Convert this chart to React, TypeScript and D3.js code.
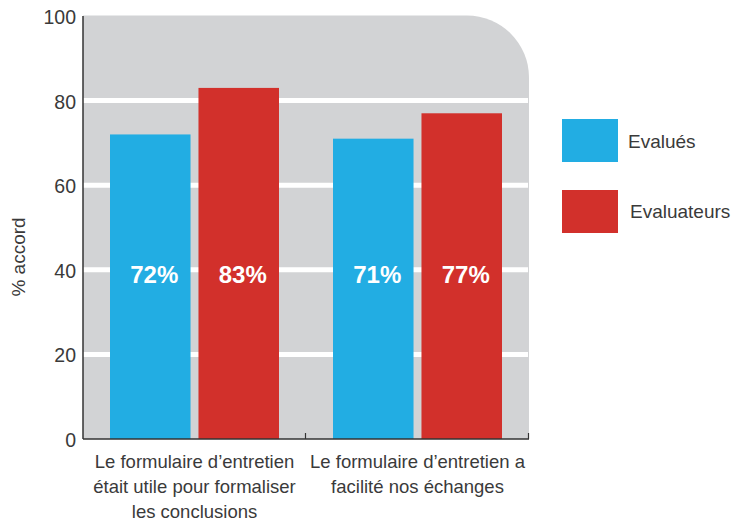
import React from "react";
import * as d3 from "d3";

const categories = ["cat1", "cat2"];
const categoryLines = [
  ["Le formulaire d\u2019entretien", "était utile pour formaliser", "les conclusions"],
  ["Le formulaire d\u2019entretien a", "facilité nos échanges"],
];
const series = ["Evalués", "Evaluateurs"];
const evalues = [72, 71];
const evaluateurs = [83, 77];
const seriesValues = [evalues, evaluateurs];
const colors = ["#22ade3", "#d2302b"];
const yTicks = [0, 20, 40, 60, 80, 100];
const gridTicks = [20, 40, 60, 80];

const W = 734;
const H = 525;
const left = 83;
const right = 529;
const top = 16;
const bottom = 439;
const font = "'Liberation Sans', Arial, Helvetica, sans-serif";
const textColor = "#3a3a3a";

export default function App() {
  const x = d3.scaleBand<string>().domain(categories).range([left, right]).padding(0);
  const inner = d3
    .scaleBand<string>()
    .domain(series)
    .range([27, 196])
    .paddingInner(8 / 89)
    .paddingOuter(0);
  const y = d3.scaleLinear().domain([0, 100]).range([bottom, top]);
  const r = 62;
  const bgPath = `M${left},${bottom} L${left},${top - 0.5} L${right - r},${top - 0.5} A${r},${r} 0 0 1 ${right},${top - 0.5 + r} L${right},${bottom} Z`;

  return (
    <svg
      width={W}
      height={H}
      style={{ position: "absolute", left: 0, top: 0, background: "#fff" }}
      fontFamily={font}
    >
      <path d={bgPath} fill="#d2d3d5" />
      {gridTicks.map((t) => (
        <line key={t} x1={left} x2={right - 1} y1={y(t)} y2={y(t)} stroke="#fff" strokeWidth={5} />
      ))}
      {categories.map((c, ci) =>
        series.map((s, si) => {
          const v = seriesValues[si][ci];
          const bx = (x(c) as number) + (inner(s) as number);
          return (
            <g key={c + s}>
              <rect x={bx} y={y(v)} width={inner.bandwidth()} height={bottom - y(v)} fill={colors[si]} />
              <text
                x={bx + inner.bandwidth() / 2 + 4}
                y={y(40) + 13}
                textAnchor="middle"
                fill="#fff"
                fontWeight="bold"
                fontSize={24}
              >
                {v}%
              </text>
            </g>
          );
        })
      )}
      <line x1={left} x2={left} y1={top} y2={bottom} stroke="#333" strokeWidth={1.5} />
      <line x1={left} x2={right} y1={bottom} y2={bottom} stroke="#333" strokeWidth={1.5} />
      {categories.map((c) => {
        const tx = (x(c) as number) + x.bandwidth();
        return <line key={c} x1={tx - 0.5} x2={tx - 0.5} y1={bottom} y2={bottom - 6} stroke="#333" strokeWidth={1.2} />;
      })}
      {yTicks.map((t) => (
        <text key={t} x={76} y={y(t) + 8} textAnchor="end" fontSize={19.5} fill={textColor}>
          {t}
        </text>
      ))}
      <text
        transform={`translate(25, ${257}) rotate(-90)`}
        textAnchor="middle"
        fontSize={19}
        fill={textColor}
      >
        % accord
      </text>
      {categories.map((c, ci) => {
        const cx = (x(c) as number) + x.bandwidth() / 2;
        return (
          <text key={c} textAnchor="middle" fontSize={18.5} fill={textColor}>
            {categoryLines[ci].map((ln, li) => (
              <tspan key={li} x={cx} y={468 + li * 25}>
                {ln}
              </tspan>
            ))}
          </text>
        );
      })}
      {series.map((s, si) => (
        <g key={s}>
          <rect x={562} y={119 + si * 71} width={56} height={43} fill={colors[si]} />
          <text x={628 + si * 2} y={148 + si * 70} fontSize={19} fill={textColor}>
            {s}
          </text>
        </g>
      ))}
    </svg>
  );
}
